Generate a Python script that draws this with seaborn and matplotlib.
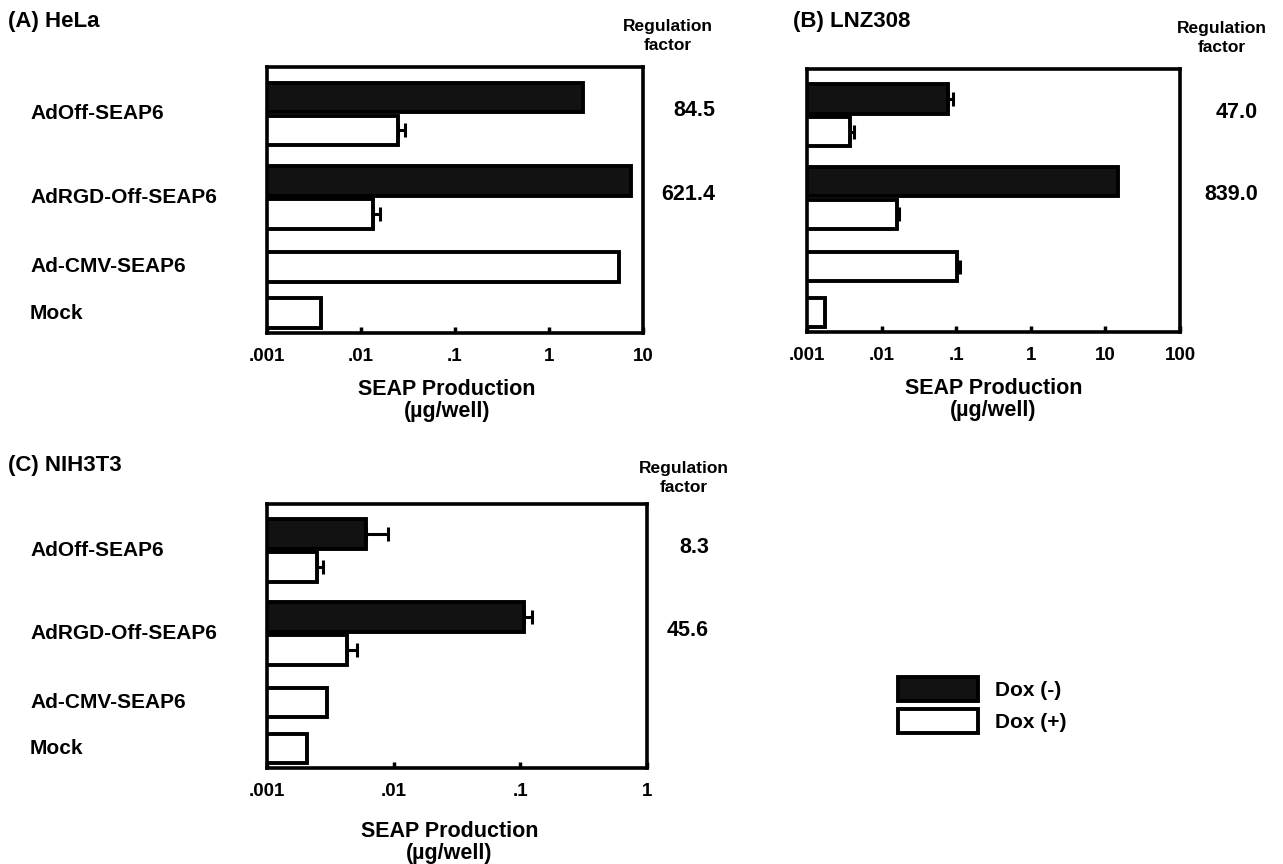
import numpy as np
import pandas as pd
import matplotlib
matplotlib.use("Agg")
import matplotlib.pyplot as plt
import matplotlib.transforms as mtransforms
from matplotlib.patches import Patch
import seaborn as sns

# ---- data -------------------------------------------------------------
constructs = ["AdOff-SEAP6", "AdRGD-Off-SEAP6", "Ad-CMV-SEAP6", "Mock"]
conditions = ["Dox (-)", "Dox (+)"]

# SEAP production (ug/well); NaN = not measured for that condition
hela_minus = [2.3, 7.4, np.nan, np.nan]
hela_minus_top = [np.nan, np.nan, np.nan, np.nan]
hela_plus = [0.0246, 0.0134, 5.6, 0.0038]
hela_plus_top = [0.0294, 0.0159, np.nan, np.nan]
hela_factor = [84.5, 621.4]

lnz_minus = [0.078, 14.8, np.nan, np.nan]
lnz_minus_top = [0.0906, np.nan, np.nan, np.nan]
lnz_plus = [0.0038, 0.0161, 0.103, 0.00174]
lnz_plus_top = [0.0043, 0.0171, 0.113, np.nan]
lnz_factor = [47.0, 839.0]

nih_minus = [0.0060, 0.107, np.nan, np.nan]
nih_minus_top = [0.0091, 0.124, np.nan, np.nan]
nih_plus = [0.00249, 0.00427, 0.0030, 0.00207]
nih_plus_top = [0.00278, 0.0051, np.nan, np.nan]
nih_factor = [8.3, 45.6]

hela_ticks = [0.001, 0.01, 0.1, 1, 10]
hela_ticklabels = [".001", ".01", ".1", "1", "10"]
lnz_ticks = [0.001, 0.01, 0.1, 1, 10, 100]
lnz_ticklabels = [".001", ".01", ".1", "1", "10", "100"]
nih_ticks = [0.001, 0.01, 0.1, 1]
nih_ticklabels = [".001", ".01", ".1", "1"]

# ---- style ------------------------------------------------------------
sns.set_theme(style="white")
plt.rcParams["font.family"] = ["Liberation Sans", "DejaVu Sans"]
plt.rcParams["font.weight"] = "bold"
plt.rcParams["text.color"] = "black"
plt.rcParams["axes.labelcolor"] = "black"
plt.rcParams["xtick.color"] = "black"
plt.rcParams["ytick.color"] = "black"

W, H = 1283, 864
fig = plt.figure(figsize=(W / 100, H / 100), dpi=100)


def fig_rect(left, top, right, bottom):
    return [left / W, 1 - bottom / H, (right - left) / W, (bottom - top) / H]


group_centers = [1.42, 3.95, 6.05, 7.45]
palette = {"Dox (-)": "#121212", "Dox (+)": "white"}


def draw_panel(ax, minus, minus_top, plus, plus_top, factors, ticks, ticklabels,
               title, title_xy, header_xy, factor_right, xlabel_x, labelpad,
               show_names=True):
    rows = []
    for i, name in enumerate(constructs):
        c = group_centers[i]
        if not np.isnan(minus[i]):
            rows.append(dict(construct=name, condition="Dox (-)", value=minus[i],
                             top=minus_top[i], pos=c - 0.5))
            rows.append(dict(construct=name, condition="Dox (+)", value=plus[i],
                             top=plus_top[i], pos=c + 0.5))
        else:
            rows.append(dict(construct=name, condition="Dox (+)", value=plus[i],
                             top=plus_top[i], pos=c))
    df = pd.DataFrame(rows)

    ax.set_xscale("log")
    sns.barplot(data=df, x="value", y="pos", hue="condition", hue_order=conditions,
                orient="y", native_scale=True, dodge=False, palette=palette,
                edgecolor="black", linewidth=2.8, width=0.9, errorbar=None,
                legend=False, ax=ax)

    err = df.dropna(subset=["top"])
    ax.errorbar(err["value"], err["pos"],
                xerr=[np.zeros(len(err)), err["top"] - err["value"]],
                fmt="none", ecolor="black", elinewidth=2.2, capsize=5, capthick=2.2)

    ax.set_xlim(ticks[0], ticks[-1])
    ax.set_ylim(8.05, 0)
    ax.set_yticks([])
    ax.set_ylabel("")
    ax.set_xticks(ticks)
    ax.set_xticklabels(ticklabels)
    ax.minorticks_off()
    ax.tick_params(axis="x", direction="in", length=4, width=2.5, pad=11,
                   labelsize=13.5, bottom=True)
    for s in ax.spines.values():
        s.set_visible(True)
        s.set_linewidth(2.6)
        s.set_color("black")
    ax.set_xlabel("SEAP Production\n(µg/well)", fontsize=15.5, fontweight="bold",
                  linespacing=1.05, labelpad=labelpad)
    ax.xaxis.label.set_x(xlabel_x)

    trans = mtransforms.blended_transform_factory(fig.transFigure, ax.transData)
    # construct names at the left margin
    if show_names:
        for i, name in enumerate(constructs):
            ax.text(30 / W, group_centers[i], name, transform=trans, ha="left",
                    va="center", fontsize=15, fontweight="bold", clip_on=False)

    # regulation factors
    for i, f in enumerate(factors):
        ax.text(factor_right / W, group_centers[i] - 0.1, f"{f:.1f}", transform=trans,
                ha="right", va="center", fontsize=15.5, fontweight="bold", clip_on=False)

    fig.text(header_xy[0] / W, 1 - header_xy[1] / H, "Regulation\nfactor",
             ha="center", va="center", fontsize=12.5, fontweight="bold", linespacing=1.4)
    fig.text(title_xy[0] / W, 1 - title_xy[1] / H, title, ha="left", va="center",
             fontsize=16, fontweight="bold")


ax_a = fig.add_axes(fig_rect(267, 67, 643, 333))
draw_panel(ax_a, hela_minus, hela_minus_top, hela_plus, hela_plus_top, hela_factor,
           hela_ticks, hela_ticklabels, "(A) HeLa", (8, 22), (668, 36), 715, 0.479, 10)

ax_b = fig.add_axes(fig_rect(807, 69, 1180, 332))
draw_panel(ax_b, lnz_minus, lnz_minus_top, lnz_plus, lnz_plus_top, lnz_factor,
           lnz_ticks, lnz_ticklabels, "(B) LNZ308", (793, 22), (1222, 38), 1258, 0.5, 10,
           show_names=False)

ax_c = fig.add_axes(fig_rect(267, 504, 647, 768))
draw_panel(ax_c, nih_minus, nih_minus_top, nih_plus, nih_plus_top, nih_factor,
           nih_ticks, nih_ticklabels, "(C) NIH3T3", (8, 466), (684, 478), 709, 0.48, 15)

# legend for the two conditions
handles = [Patch(facecolor=palette[c], edgecolor="black", linewidth=2.8) for c in conditions]
fig.legend(handles, conditions, loc="center left", bbox_to_anchor=(898 / W, 1 - 705 / H),
           frameon=False, fontsize=15, handlelength=3.85, handleheight=1.45,
           labelspacing=0.35, handletextpad=0.8, borderpad=0, borderaxespad=0)

fig.savefig("out.png", dpi=100, facecolor="white")
